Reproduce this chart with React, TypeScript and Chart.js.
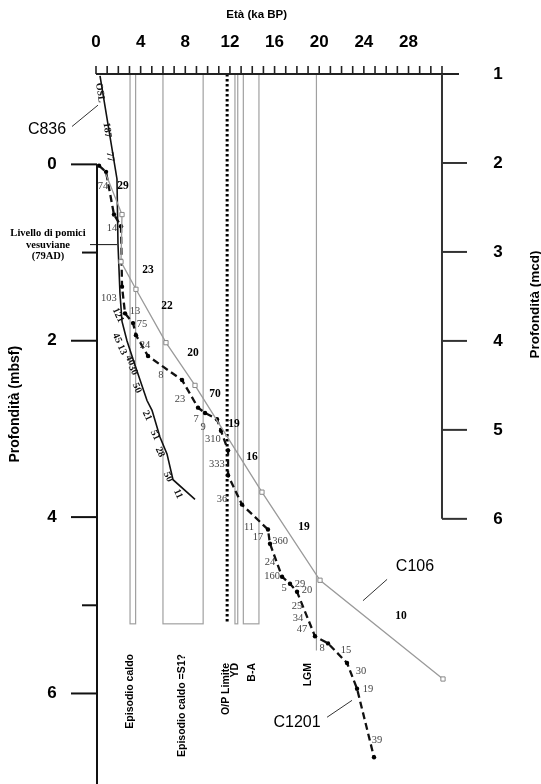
import React, { useEffect, useRef } from "react";
import { Chart, registerables } from "chart.js";
Chart.register(...registerables);

// ---------- axes ----------
const ageTickLabels = [0, 4, 8, 12, 16, 20, 24, 28];
const ageMinorTicks = [0, 1, 2, 3, 4, 5, 6, 7, 8, 9, 10, 11, 12, 13, 14, 15, 16, 17, 18, 19, 20, 21, 22, 23, 24, 25, 26, 27, 28, 29, 30, 31];
const mbsfMajor = [0, 2, 4, 6];
const mbsfMinor = [1, 5];
const mcdTicks = [1, 2, 3, 4, 5, 6];

// ---------- series (age ka BP, depth mcd) ----------
const c836Age = [0.36, 1.88, 1.97, 2.15, 2.33, 2.78, 3.49, 4.57, 5.02, 5.73, 6.36, 6.9, 8.87];
const c836Depth = [1.02, 2.18, 2.91, 3.47, 3.78, 4.0, 4.27, 4.67, 4.78, 5.08, 5.27, 5.56, 5.78];

const c1201Age = [0.27, 0.9, 1.61, 2.24, 2.33, 2.6, 3.32, 3.58, 4.66, 7.71, 9.14, 9.77, 10.84, 11.2, 11.83, 11.83, 13.08, 15.41, 15.59, 16.67, 17.38, 18.01, 19.62, 20.79, 22.49, 23.39, 24.91];
const c1201Depth = [2.03, 2.1, 2.58, 2.71, 3.39, 3.69, 3.8, 3.935, 4.17, 4.44, 4.75, 4.81, 4.88, 5.01, 5.23, 5.51, 5.84, 6.12, 6.28, 6.65, 6.73, 6.82, 7.32, 7.4, 7.62, 7.91, 8.68];

const c106Age = [0.9, 2.33, 2.24, 3.58, 6.27, 8.87, 14.87, 20.07, 31.09];
const c106Depth = [2.13, 2.58, 3.11, 3.42, 4.02, 4.5, 5.7, 6.69, 7.8];

// ---------- rate labels ----------
const c106RateText = ["29", "23", "22", "20", "70", "19", "16", "19", "10"];
const c106RateAge = [2.42, 4.66, 6.36, 8.69, 10.66, 12.37, 13.98, 18.64, 27.33];
const c106RateDepth = [2.26, 3.2, 3.61, 4.14, 4.6, 4.93, 5.31, 6.09, 7.09];

const c1201RateText = ["74", "14", "103", "13", "75", "24", "8", "23", "7", "9", "310", "333", "36", "11", "17", "360", "24", "160", "5", "29", "20", "25", "34", "47", "8", "15", "30", "19", "39"];
const c1201RateAge = [0.63, 1.43, 1.16, 3.49, 4.12, 4.39, 5.82, 7.53, 8.96, 9.59, 10.48, 10.84, 11.29, 13.71, 14.52, 16.49, 15.59, 15.77, 16.85, 18.28, 18.91, 18.01, 18.1, 18.46, 20.25, 22.4, 23.75, 24.37, 25.18];
const c1201RateDepth = [2.26, 2.73, 3.52, 3.67, 3.81, 4.05, 4.39, 4.66, 4.88, 4.97, 5.11, 5.39, 5.78, 6.1, 6.21, 6.25, 6.49, 6.64, 6.78, 6.73, 6.8, 6.98, 7.12, 7.24, 7.46, 7.48, 7.71, 7.91, 8.49];

const c836RateText = ["OSL", "187", "77", "121", "45", "13", "40", "30", "50", "21", "51", "28", "50", "11"];
const c836RateAge = [0.36, 0.99, 1.25, 1.97, 1.88, 2.33, 3.05, 3.32, 3.67, 4.57, 5.29, 5.73, 6.45, 7.35];
const c836RateDepth = [1.21, 1.63, 1.93, 3.71, 3.97, 4.1, 4.22, 4.33, 4.53, 4.84, 5.06, 5.25, 5.53, 5.72];

// ---------- intervals ----------
const bandNames = ["Episodio caldo", "Episodio caldo =S1?", "O/P Limite", "YD", "B-A", "LGM"];
const bandStart = [3.05, 6.0, 11.75, 12.45, 13.2, 19.75];
const bandEnd = [3.55, 9.6, 11.75, 12.7, 14.6, 19.75];
const bandLabelAge = [3.05, 7.7, 11.65, 12.5, 14.0, 19.0];

// ---------- core names ----------
const coreNames = ["C836", "C106", "C1201"];
const coreLabelAge = [-4.39, 28.58, 18.01];
const coreLabelDepth = [1.625, 6.54, 8.29];
const coreLeaderAge = [[-2.15, 0.18], [26.08, 23.92], [20.7, 22.94]];
const coreLeaderDepth = [[1.59, 1.35], [6.68, 6.92], [8.23, 8.04]];

const SANS = '"Liberation Sans", Arial, sans-serif';
const SERIF = '"Liberation Serif", "Times New Roman", serif';

const overlay = {
  id: "overlay",
  beforeDatasetsDraw(chart: any) {
    const { ctx, scales } = chart;
    const x = scales.x, y = scales.y;
    const top = y.getPixelForValue(1);
    const bandBottom = y.getPixelForValue(7.18);
    ctx.save();
    ctx.strokeStyle = "#a0a0a0";
    ctx.lineWidth = 1.2;
    bandNames.forEach((name, i) => {
      const x0 = x.getPixelForValue(bandStart[i]);
      const x1 = x.getPixelForValue(bandEnd[i]);
      if (name === "O/P Limite") {
        ctx.save();
        ctx.strokeStyle = "#000";
        ctx.lineWidth = 3;
        ctx.setLineDash([2.5, 2.5]);
        ctx.beginPath();
        ctx.moveTo(x0, top);
        ctx.lineTo(x0, bandBottom);
        ctx.stroke();
        ctx.restore();
      } else if (name === "LGM") {
        ctx.beginPath();
        ctx.moveTo(x0, top);
        ctx.lineTo(x0, y.getPixelForValue(7.48));
        ctx.stroke();
      } else {
        ctx.strokeRect(x0, top, x1 - x0, bandBottom - top);
      }
    });
    // band labels
    ctx.fillStyle = "#000";
    ctx.font = "bold 10.5px " + SANS;
    bandNames.forEach((name, i) => {
      const px = x.getPixelForValue(bandLabelAge[i]);
      ctx.save();
      ctx.translate(px, name === "Episodio caldo" || name === "Episodio caldo =S1?" ? 654 : 663);
      ctx.rotate(-Math.PI / 2);
      ctx.textAlign = "right";
      ctx.textBaseline = "middle";
      ctx.fillText(name, 0, 0);
      ctx.restore();
    });
    ctx.restore();
  },
  afterDatasetsDraw(chart: any) {
    const { ctx, scales } = chart;
    const x = scales.x, y = scales.y, y2 = scales.y2;
    ctx.save();
    ctx.strokeStyle = "#222";
    ctx.fillStyle = "#000";
    // top axis
    const axY = y.getPixelForValue(1);
    const x0 = x.getPixelForValue(0);
    const xR = x.getPixelForValue(31);
    ctx.lineWidth = 2;
    ctx.beginPath();
    ctx.moveTo(x0, axY);
    ctx.lineTo(xR + 17, axY);
    ctx.stroke();
    ctx.lineWidth = 1.6;
    ageMinorTicks.forEach((t) => {
      const px = x.getPixelForValue(t);
      ctx.beginPath();
      ctx.moveTo(px, axY);
      ctx.lineTo(px, axY - 8);
      ctx.stroke();
    });
    ctx.font = "bold 17px " + SANS;
    ctx.textAlign = "center";
    ctx.textBaseline = "middle";
    ageTickLabels.forEach((t) => {
      ctx.fillText(String(t), x.getPixelForValue(t), axY - 32);
    });
    ctx.font = "bold 11.5px " + SANS;
    ctx.fillText("Età (ka BP)", x.getPixelForValue(14.4), axY - 59);

    // right axis (mcd)
    ctx.lineWidth = 2;
    ctx.strokeStyle = "#333";
    ctx.beginPath();
    ctx.moveTo(xR, axY);
    ctx.lineTo(xR, y.getPixelForValue(6));
    ctx.stroke();
    ctx.font = "bold 17px " + SANS;
    mcdTicks.forEach((t) => {
      const py = y.getPixelForValue(t);
      if (t > 1) {
        ctx.beginPath();
        ctx.moveTo(xR, py);
        ctx.lineTo(xR + 25, py);
        ctx.stroke();
      }
      ctx.fillText(String(t), xR + 56, py);
    });
    ctx.save();
    ctx.font = "bold 13.5px " + SANS;
    ctx.translate(xR + 93, y.getPixelForValue(3.59));
    ctx.rotate(-Math.PI / 2);
    ctx.fillText("Profondità (mcd)", 0, 0);
    ctx.restore();

    // left axis (mbsf)
    const ax0 = y2.getPixelForValue(0);
    ctx.strokeStyle = "#111";
    ctx.beginPath();
    ctx.moveTo(x0 + 1, ax0);
    ctx.lineTo(x0 + 1, chart.height);
    ctx.stroke();
    ctx.font = "bold 17px " + SANS;
    mbsfMajor.forEach((t) => {
      const py = y2.getPixelForValue(t);
      ctx.beginPath();
      ctx.moveTo(x0 - 25, py);
      ctx.lineTo(x0 + 1, py);
      ctx.stroke();
      ctx.fillText(String(t), x0 - 44, py);
    });
    mbsfMinor.forEach((t) => {
      const py = y2.getPixelForValue(t);
      ctx.beginPath();
      ctx.moveTo(x0 - 14, py);
      ctx.lineTo(x0 + 1, py);
      ctx.stroke();
    });
    ctx.save();
    ctx.font = "bold 14px " + SANS;
    ctx.translate(x0 - 81, y2.getPixelForValue(2.72));
    ctx.rotate(-Math.PI / 2);
    ctx.fillText("Profondità (mbsf)", 0, 0);
    ctx.restore();

    // Livello di pomici
    const pLine = y2.getPixelForValue(0.91);
    ctx.lineWidth = 1;
    ctx.beginPath();
    ctx.moveTo(x0 - 6, pLine);
    ctx.lineTo(x.getPixelForValue(1.88), pLine);
    ctx.stroke();
    ctx.font = "bold 10.5px " + SERIF;
    ctx.fillText("Livello di pomici", x0 - 48, pLine - 11);
    ctx.fillText("vesuviane", x0 - 48, pLine + 1);
    ctx.fillText("(79AD)", x0 - 48, pLine + 12);

    // core names + leader lines
    ctx.font = "16px " + SANS;
    ctx.lineWidth = 1;
    ctx.strokeStyle = "#333";
    coreNames.forEach((n, i) => {
      ctx.fillText(n, x.getPixelForValue(coreLabelAge[i]), y.getPixelForValue(coreLabelDepth[i]));
      ctx.beginPath();
      ctx.moveTo(x.getPixelForValue(coreLeaderAge[i][0]), y.getPixelForValue(coreLeaderDepth[i][0]));
      ctx.lineTo(x.getPixelForValue(coreLeaderAge[i][1]), y.getPixelForValue(coreLeaderDepth[i][1]));
      ctx.stroke();
    });

    // rates
    ctx.font = "bold 11.5px " + SERIF;
    c106RateText.forEach((t, i) => {
      ctx.fillText(t, x.getPixelForValue(c106RateAge[i]), y.getPixelForValue(c106RateDepth[i]));
    });
    ctx.font = "10.5px " + SERIF;
    ctx.fillStyle = "#444";
    c1201RateText.forEach((t, i) => {
      ctx.fillText(t, x.getPixelForValue(c1201RateAge[i]), y.getPixelForValue(c1201RateDepth[i]));
    });
    ctx.fillStyle = "#111";
    ctx.font = "bold 10px " + SERIF;
    c836RateText.forEach((t, i) => {
      ctx.save();
      ctx.translate(x.getPixelForValue(c836RateAge[i]), y.getPixelForValue(c836RateDepth[i]));
      ctx.rotate(i < 3 ? (82 * Math.PI) / 180 : (65 * Math.PI) / 180);
      ctx.fillText(t, 0, 0);
      ctx.restore();
    });
    ctx.restore();
  },
};

function toPoints(a: number[], d: number[]) {
  return a.map((v, i) => ({ x: v, y: d[i] }));
}

export default function App() {
  const ref = useRef<HTMLCanvasElement>(null);
  useEffect(() => {
    if (!ref.current) return;
    const chart = new Chart(ref.current, {
      type: "scatter",
      data: {
        datasets: [
          {
            label: "C106",
            data: toPoints(c106Age, c106Depth),
            showLine: true,
            borderColor: "#9a9a9a",
            borderWidth: 1.3,
            pointStyle: "rect",
            pointRadius: c106Age.map((_, i) => (i === 0 ? 0 : 3)),
            pointBackgroundColor: "#fff",
            pointBorderColor: "#888",
            pointBorderWidth: 1,
            yAxisID: "y",
            clip: false,
          } as any,
          {
            label: "C836",
            data: toPoints(c836Age, c836Depth),
            showLine: true,
            borderColor: "#111",
            borderWidth: 1.6,
            pointRadius: 0,
            yAxisID: "y",
            clip: false,
          } as any,
          {
            label: "C1201",
            data: toPoints(c1201Age, c1201Depth),
            showLine: true,
            borderColor: "#111",
            borderWidth: 2.3,
            borderDash: [7, 4],
            pointRadius: 2.2,
            pointBackgroundColor: "#000",
            pointBorderColor: "#000",
            pointBorderWidth: 0,
            yAxisID: "y",
            clip: false,
          } as any,
        ],
      },
      options: {
        animation: false,
        responsive: false,
        devicePixelRatio: 1,
        layout: { padding: { left: 96, right: 97, top: 74, bottom: 0 } },
        plugins: { legend: { display: false }, tooltip: { enabled: false } },
        scales: {
          x: { type: "linear", min: 0, max: 31.18, display: false },
          y: { type: "linear", min: 1, max: 8.924, reverse: true, display: false },
          y2: { type: "linear", min: -1.0248, max: 6.97, reverse: true, display: false },
        },
      },
      plugins: [overlay],
    });
    return () => chart.destroy();
  }, []);
  return (
    <div style={{ position: "absolute", left: 0, top: 0, width: 541, height: 784, background: "#fff" }}>
      <canvas ref={ref} width={541} height={784} style={{ width: 541, height: 784, display: "block" }} />
    </div>
  );
}
